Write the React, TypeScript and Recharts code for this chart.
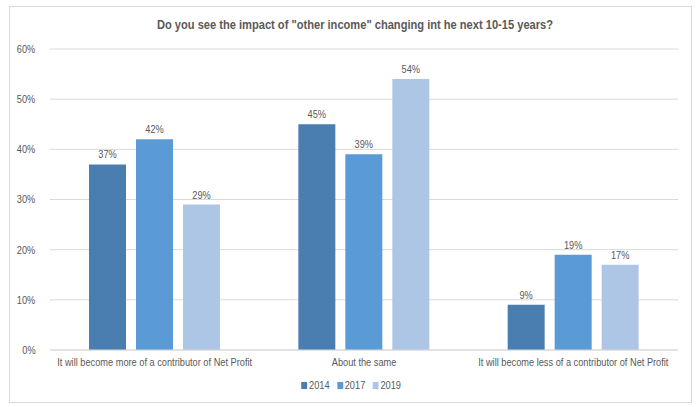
import React from 'react';
import { BarChart, Bar, XAxis, YAxis, CartesianGrid, LabelList } from 'recharts';

const categories = [
  'It will become more of a contributor of Net Profit',
  'About the same',
  'It will become less of a contributor of Net Profit',
];
const series2014 = [37, 45, 9];
const series2017 = [42, 39, 19];
const series2019 = [29, 54, 17];
const yTicks = [0, 10, 20, 30, 40, 50, 60];

const seriesDefs = [
  { key: 'y2014', name: '2014', color: '#4a7eb0' },
  { key: 'y2017', name: '2017', color: '#5b9bd5' },
  { key: 'y2019', name: '2019', color: '#adc6e6' },
];

const data = categories.map((c, i) => ({
  category: c,
  y2014: series2014[i],
  y2017: series2017[i],
  y2019: series2019[i],
}));

const FONT = '"Liberation Sans", Arial, sans-serif';
const TEXT = '#595959';

// no narrow font available, so squeeze the text horizontally
const css = `
body{margin:0}
.recharts-cartesian-axis-tick-value, .recharts-label {
  transform-box: fill-box; transform-origin: center; transform: scaleX(0.84);
}
.yAxis .recharts-cartesian-axis-tick-value { transform-origin: right center; }
`;

const LegendContent = () => (
  <div style={{ display: 'flex', justifyContent: 'center', fontFamily: FONT, fontSize: 11, color: TEXT, transform: 'scaleX(0.84)' }}>
    {seriesDefs.map((s) => (
      <span key={s.key} style={{ display: 'inline-flex', alignItems: 'center', marginRight: 9 }}>
        <span style={{ width: 7, height: 7, background: s.color, display: 'inline-block', marginRight: 2 }} />
        {s.name}
      </span>
    ))}
  </div>
);

export default function App() {
  return (
    <div style={{ position: 'relative', width: 697, height: 407, background: '#fff', fontFamily: FONT }}>
      <style>{css}</style>
      <div
        style={{
          position: 'absolute', left: 9, top: 6, width: 683, height: 397,
          border: '1px solid #d9d9d9', boxSizing: 'border-box',
        }}
      />
      <div
        style={{
          position: 'absolute', left: 0, width: 710, top: 18, textAlign: 'center',
          fontSize: 12, fontWeight: 'bold', color: TEXT, fontFamily: FONT,
          transform: 'scaleX(0.925)',
        }}
      >
        Do you see the impact of "other income" changing int he next 10-15 years?
      </div>
      <div style={{ position: 'absolute', left: 0, top: 0 }}>
        <BarChart
          width={697}
          height={407}
          data={data}
          margin={{ top: 49, right: 19, bottom: 27, left: 0 }}
          barSize={37}
          barGap={10}
        >
          <CartesianGrid vertical={false} stroke="#d9d9d9" />
          <XAxis
            dataKey="category"
            height={30}
            tickLine={false}
            axisLine={{ stroke: '#d9d9d9' }}
            tick={{ fill: TEXT, fontSize: 11, fontFamily: FONT }}
            interval={0}
          />
          <YAxis
            width={50}
            domain={[0, 60]}
            ticks={yTicks}
            tickFormatter={(v: number) => `${v}%`}
            tickLine={false}
            axisLine={false}
            tickMargin={7}
            tick={{ fill: TEXT, fontSize: 11, fontFamily: FONT }}
          />
          {seriesDefs.map((s) => (
            <Bar key={s.key} dataKey={s.key} name={s.name} fill={s.color} isAnimationActive={false}>
              <LabelList
                dataKey={s.key}
                position="top"
                offset={6}
                formatter={(v: number) => `${v}%`}
                style={{ fill: TEXT, fontSize: 11, fontFamily: FONT }}
              />
            </Bar>
          ))}
        </BarChart>
      </div>
      <div style={{ position: 'absolute', left: 0, width: 710, top: 379 }}>
        <LegendContent />
      </div>
    </div>
  );
}
